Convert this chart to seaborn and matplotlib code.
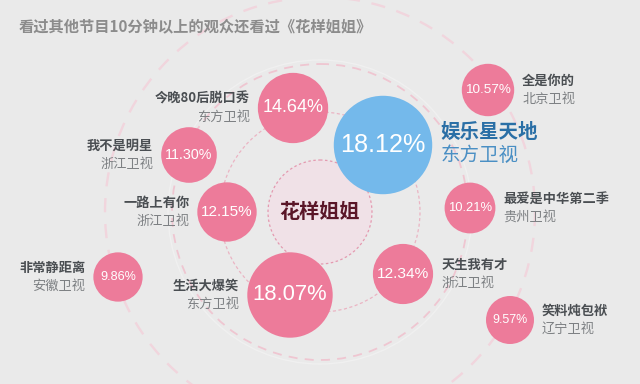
import matplotlib
matplotlib.use("Agg")
import matplotlib.pyplot as plt
from matplotlib.patches import Circle
import seaborn as sns
import pandas as pd

# ---- data ----
title = "看过其他节目10分钟以上的观众还看过《花样姐姐》"
center_label = "花样姐姐"
programs = ["今晚80后脱口秀", "我不是明星", "一路上有你", "非常静距离", "生活大爆笑",
            "娱乐星天地", "全是你的", "最爱是中华第二季", "天生我有才", "笑料炖包袱"]
channels = ["东方卫视", "浙江卫视", "浙江卫视", "安徽卫视", "东方卫视",
            "东方卫视", "北京卫视", "贵州卫视", "浙江卫视", "辽宁卫视"]
shares = [14.64, 11.30, 12.15, 9.86, 18.07, 18.12, 10.57, 10.21, 12.34, 9.57]
highlight = ["否", "否", "否", "否", "否", "是", "否", "否", "否", "否"]

# ---- layout (pixel-like canvas coordinates) ----
pos_x = [293, 189, 227, 118, 290, 383, 488, 470, 403, 510]
pos_y = [108, 155, 212, 277, 295, 145, 90, 208, 274, 320]
label_side = ["left", "left", "left", "left", "left", "right", "right", "right", "right", "right"]
CX, CY = 320, 212

DPI = 100
BG = "#eaeaea"
PINK = "#ed7b9a"
BLUE = "#74b9eb"

sns.set_theme(style="white")
plt.rcParams["font.family"] = ["Noto Sans CJK SC", "DejaVu Sans"]

fig = plt.figure(figsize=(6.4, 3.84), dpi=DPI, facecolor=BG)
ax = fig.add_axes([0, 0, 1, 1])
ax.set_facecolor(BG)
ax.set_xlim(0, 640)
ax.set_ylim(384, 0)
ax.set_aspect("equal")
ax.axis("off")

# concentric guide rings
ax.add_patch(Circle((CX, CY), 215, fill=False, ec="#f1d5dd", lw=1.7, ls=(0, (6, 5)), zorder=1))
ax.add_patch(Circle((CX, CY), 148, fill=False, ec="#efc6d1", lw=1.3, ls=(0, (5, 4)), zorder=1))
ax.add_patch(Circle((CX, CY), 152, fill=False, ec="#f0f0f0", lw=1.0, zorder=1))
ax.add_patch(Circle((CX, CY), 100, fill=False, ec="#eab4c3", lw=0.9, ls=(0, (2.5, 2)), zorder=1))

# center circle
ax.add_patch(Circle((CX, CY), 52, fc="#f0e1e7", ec="#e49ab0", lw=0.9, ls=(0, (2, 2)), zorder=2))
ax.text(CX, CY, center_label, ha="center", va="center", fontsize=14.5,
        color="#5a1628", fontweight="bold", zorder=3)

df = pd.DataFrame({"x": pos_x, "y": pos_y, "share": shares, "hl": highlight,
                   "program": programs, "channel": channels, "side": label_side})

# bubble radius (px) from value; highlighted bubble enlarged
def radius(v, hl):
    r = 24 + (v - 9.57) * 2.2
    return r * 1.15 if hl == "是" else r

df["r"] = [radius(v, h) for v, h in zip(df["share"], df["hl"])]
df["s"] = (2 * df["r"] * 72 / DPI) ** 2

sns.scatterplot(data=df, x="x", y="y", hue="hl", palette={"否": PINK, "是": BLUE},
                s=df["s"].values, linewidth=0, legend=False, ax=ax, zorder=4, alpha=1)

for _, row in df.iterrows():
    fs = row["r"] * 0.37
    ax.text(row["x"], row["y"], f"{row['share']:.2f}%", ha="center", va="center",
            fontsize=fs, color="white", family=["Liberation Sans", "DejaVu Sans"],
            zorder=5)
    hl = row["hl"] == "是"
    gap = 8
    if row["side"] == "left":
        lx, ha = row["x"] - row["r"] - gap, "right"
    else:
        lx, ha = row["x"] + row["r"] + gap, "left"
    if hl:
        ax.text(lx, row["y"] - 13, row["program"], ha=ha, va="center", fontsize=14,
                color="#2a6fa6", fontweight="bold", zorder=5)
        ax.text(lx, row["y"] + 10, row["channel"], ha=ha, va="center", fontsize=14,
                color="#4a8fc4", zorder=5)
    else:
        ax.text(lx, row["y"] - 9, row["program"], ha=ha, va="center", fontsize=9.5,
                color="#4a4e52", fontweight="bold", zorder=5)
        ax.text(lx, row["y"] + 9, row["channel"], ha=ha, va="center", fontsize=9.5,
                color="#7d8083", zorder=5)

fig.text(19 / 640, 1 - 26 / 384, title, ha="left", va="center", fontsize=11,
         color="#8c8c8c", fontweight="bold")

fig.savefig("out.png", dpi=DPI, facecolor=BG)
